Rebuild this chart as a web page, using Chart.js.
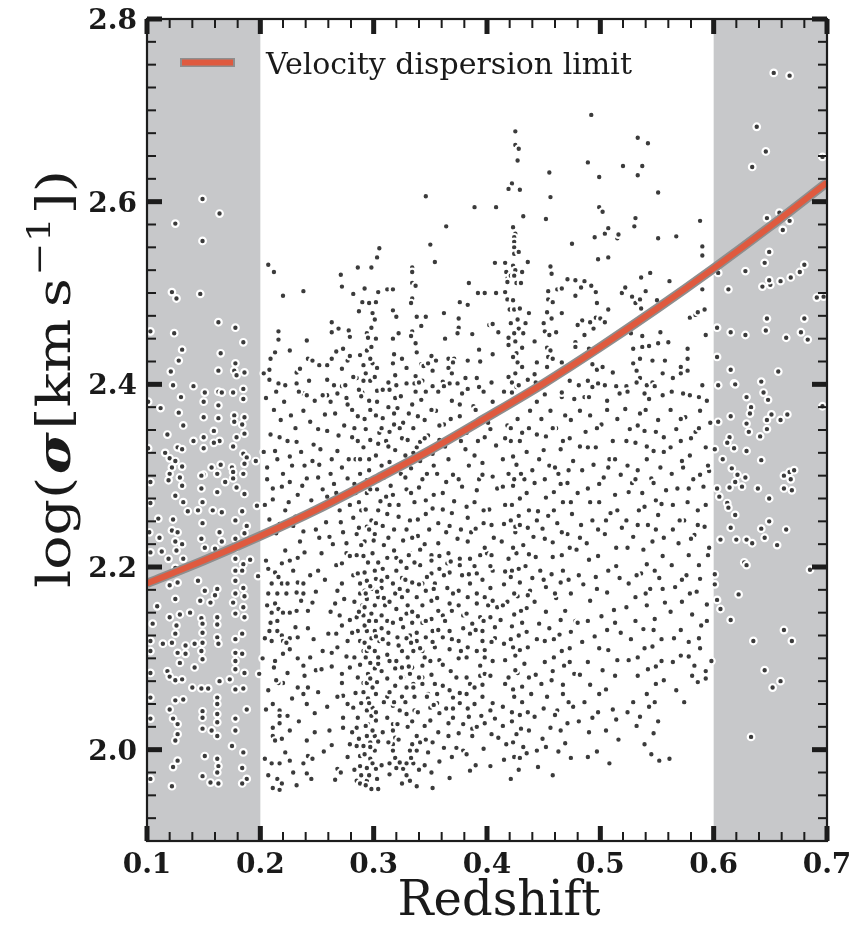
<!DOCTYPE html>
<html>
<head>
<meta charset="utf-8">
<script src="https://cdn.jsdelivr.net/npm/chart.js@4.4.1/dist/chart.umd.min.js"></script>
<style>
  html, body { margin: 0; padding: 0; background: #fff; }
  #wrap { width: 851px; height: 930px; }
</style>
</head>
<body>
<div id="wrap"><canvas id="sigmaChart" width="851" height="930"></canvas></div>
<script>
// axis ticks and shaded redshift ranges
const xMajorTicks = [0.1, 0.2, 0.3, 0.4, 0.5, 0.6, 0.7];
const yMajorTicks = [2.0, 2.2, 2.4, 2.6, 2.8];
const xMinorStep = 0.02;
const yMinorStep = 0.025;
const shadedBands = [[0.1, 0.2], [0.6, 0.7]];

// velocity dispersion limit curve (redshift, log sigma)
const limitZ = [0.10, 0.15, 0.20, 0.25, 0.30, 0.35, 0.40, 0.45, 0.50, 0.55, 0.60, 0.65, 0.70];
const limitSigma = [2.182, 2.207, 2.234, 2.263, 2.295, 2.328, 2.364, 2.401, 2.441, 2.483, 2.527, 2.573, 2.621];

// galaxies, [redshift, log sigma]
const lowBandPts = [
  [0.149,2.603],[0.164,2.587],[0.125,2.576],[0.149,2.557],[0.122,2.501],[0.126,2.494],[0.147,2.499],[0.163,2.468],[0.178,2.462],[0.124,2.456],
  [0.185,2.446],[0.131,2.438],[0.165,2.434],[0.128,2.426],[0.121,2.414],[0.178,2.423],[0.177,2.415],[0.186,2.413],[0.179,2.410],[0.163,2.415],
  [0.103,2.458],[0.123,2.399],[0.141,2.398],[0.151,2.391],[0.163,2.392],[0.166,2.391],[0.176,2.391],[0.185,2.395],[0.185,2.384],[0.101,2.381],
  [0.130,2.386],[0.150,2.381],[0.163,2.377],[0.112,2.374],[0.128,2.369],[0.150,2.364],[0.163,2.363],[0.177,2.366],[0.186,2.364],[0.132,2.355],
  [0.159,2.349],[0.177,2.359],[0.184,2.356],[0.179,2.342],[0.186,2.346],[0.118,2.345],[0.141,2.338],[0.150,2.342],[0.164,2.338],[0.159,2.336],
  [0.127,2.331],[0.131,2.329],[0.150,2.330],[0.176,2.332],[0.101,2.330],[0.116,2.325],[0.120,2.319],[0.125,2.316],[0.185,2.324],[0.188,2.320],
  [0.196,2.316],[0.186,2.313],[0.131,2.310],[0.165,2.312],[0.157,2.309],[0.175,2.309],[0.176,2.304],[0.122,2.309],[0.120,2.302],[0.150,2.301],
  [0.162,2.302],[0.185,2.302],[0.129,2.298],[0.148,2.300],[0.176,2.297],[0.103,2.293],[0.119,2.295],[0.131,2.289],[0.148,2.286],[0.162,2.282],
  [0.169,2.293],[0.179,2.287],[0.186,2.280],[0.125,2.278],[0.132,2.271],[0.149,2.271],[0.136,2.261],[0.145,2.262],[0.158,2.262],[0.166,2.260],
  [0.184,2.261],[0.197,2.267],[0.103,2.270],[0.110,2.253],[0.123,2.252],[0.149,2.248],[0.178,2.251],[0.188,2.245],[0.164,2.238],[0.122,2.240],
  [0.127,2.238],[0.102,2.238],[0.111,2.232],[0.125,2.228],[0.131,2.225],[0.148,2.231],[0.151,2.221],[0.160,2.220],[0.166,2.228],[0.178,2.231],
  [0.186,2.237],[0.178,2.221],[0.103,2.216],[0.113,2.217],[0.119,2.209],[0.126,2.218],[0.132,2.209],[0.178,2.209],[0.185,2.203],[0.191,2.208],
  [0.198,2.190],[0.125,2.199],[0.178,2.196],[0.184,2.196],[0.120,2.180],[0.127,2.183],[0.145,2.185],[0.151,2.174],[0.162,2.176],[0.178,2.185],
  [0.185,2.177],[0.147,2.163],[0.156,2.161],[0.160,2.169],[0.178,2.171],[0.186,2.168],[0.125,2.165],[0.109,2.157],[0.176,2.161],[0.185,2.156],
  [0.120,2.145],[0.129,2.148],[0.138,2.150],[0.148,2.144],[0.162,2.145],[0.178,2.149],[0.186,2.145],[0.105,2.138],[0.126,2.136],[0.149,2.138],
  [0.162,2.137],[0.149,2.128],[0.125,2.127],[0.184,2.127],[0.162,2.123],[0.178,2.121],[0.103,2.119],[0.114,2.116],[0.122,2.117],[0.134,2.114],
  [0.142,2.116],[0.163,2.116],[0.149,2.117],[0.103,2.108],[0.127,2.106],[0.134,2.105],[0.148,2.108],[0.178,2.106],[0.184,2.105],[0.149,2.099],
  [0.129,2.095],[0.178,2.097],[0.118,2.086],[0.142,2.090],[0.178,2.088],[0.186,2.084],[0.199,2.083],[0.103,2.084],[0.120,2.080],[0.125,2.076],
  [0.131,2.077],[0.164,2.075],[0.173,2.077],[0.140,2.068],[0.148,2.067],[0.154,2.067],[0.178,2.066],[0.185,2.067],[0.125,2.054],[0.132,2.055],
  [0.162,2.057],[0.103,2.057],[0.149,2.042],[0.162,2.050],[0.120,2.044],[0.123,2.034],[0.127,2.028],[0.149,2.035],[0.162,2.039],[0.178,2.034],
  [0.178,2.021],[0.188,2.044],[0.162,2.030],[0.103,2.034],[0.149,2.023],[0.157,2.021],[0.162,2.015],[0.127,2.017],[0.125,2.010],[0.175,2.004],
  [0.185,1.997],[0.151,1.993],[0.127,1.988],[0.123,1.981],[0.162,1.990],[0.163,1.982],[0.162,1.975],[0.184,1.980],[0.188,1.968],[0.184,1.963],
  [0.149,1.971],[0.156,1.964],[0.163,1.963],[0.122,1.960],[0.103,1.968]
];

const midUpperPts = [
  [0.207,2.531],[0.212,2.523],[0.220,2.497],[0.238,2.502],[0.216,2.458],[0.216,2.449],[0.213,2.435],[0.208,2.416],[0.208,2.405],[0.216,2.401],
  [0.222,2.399],[0.232,2.413],[0.235,2.417],[0.242,2.428],[0.246,2.426],[0.238,2.390],[0.263,2.468],[0.263,2.457],[0.269,2.461],[0.278,2.459],
  [0.271,2.520],[0.272,2.507],[0.282,2.499],[0.286,2.528],[0.292,2.505],[0.298,2.528],[0.303,2.539],[0.305,2.549],[0.304,2.501],[0.312,2.504],
  [0.317,2.504],[0.290,2.490],[0.296,2.489],[0.302,2.490],[0.287,2.480],[0.299,2.478],[0.301,2.471],[0.298,2.462],[0.294,2.456],[0.295,2.451],
  [0.302,2.450],[0.288,2.432],[0.294,2.437],[0.298,2.441],[0.291,2.421],[0.299,2.423],[0.285,2.407],[0.291,2.404],[0.297,2.404],[0.301,2.408],
  [0.303,2.393],[0.290,2.391],[0.277,2.426],[0.272,2.417],[0.265,2.399],[0.272,2.398],[0.282,2.408],[0.259,2.421],[0.259,2.405],[0.317,2.481],
  [0.320,2.474],[0.322,2.456],[0.317,2.450],[0.318,2.433],[0.325,2.428],[0.317,2.423],[0.319,2.410],[0.313,2.402],[0.320,2.399],[0.314,2.394],
  [0.334,2.528],[0.334,2.523],[0.334,2.511],[0.337,2.508],[0.334,2.494],[0.333,2.489],[0.338,2.474],[0.346,2.474],[0.342,2.464],[0.334,2.458],
  [0.333,2.453],[0.337,2.445],[0.338,2.435],[0.342,2.422],[0.344,2.420],[0.337,2.409],[0.329,2.401],[0.336,2.401],[0.343,2.404],[0.337,2.392],
  [0.346,2.606],[0.350,2.553],[0.354,2.534],[0.364,2.573],[0.351,2.431],[0.355,2.426],[0.348,2.423],[0.352,2.398],[0.362,2.478],[0.363,2.450],
  [0.361,2.403],[0.366,2.428],[0.371,2.428],[0.366,2.418],[0.367,2.401],[0.374,2.401],[0.370,2.424],[0.375,2.472],[0.375,2.462],[0.374,2.456],
  [0.376,2.490],[0.383,2.487],[0.384,2.511],[0.387,2.455],[0.383,2.426],[0.381,2.407],[0.378,2.390],[0.389,2.594],[0.392,2.500],[0.398,2.500],
  [0.393,2.438],[0.394,2.425],[0.391,2.407],[0.393,2.397],[0.402,2.465],[0.405,2.466],[0.405,2.433],[0.407,2.533],[0.408,2.594],[0.408,2.500],
  [0.410,2.457],[0.416,2.501],[0.417,2.523],[0.418,2.493],[0.420,2.482],[0.424,2.482],[0.429,2.483],[0.423,2.492],[0.418,2.516],[0.421,2.519],
  [0.423,2.530],[0.425,2.525],[0.426,2.511],[0.431,2.523],[0.430,2.511],[0.436,2.534],[0.424,2.519],[0.423,2.572],[0.425,2.565],[0.424,2.561],
  [0.424,2.556],[0.424,2.550],[0.424,2.543],[0.428,2.545],[0.422,2.620],[0.419,2.614],[0.429,2.613],[0.425,2.677],[0.425,2.662],[0.428,2.658],
  [0.427,2.645],[0.432,2.584],[0.416,2.533],[0.418,2.512],[0.421,2.467],[0.427,2.471],[0.428,2.461],[0.424,2.456],[0.419,2.451],[0.432,2.456],
  [0.425,2.447],[0.419,2.443],[0.431,2.440],[0.426,2.434],[0.423,2.430],[0.427,2.424],[0.431,2.419],[0.425,2.412],[0.419,2.408],[0.422,2.402],
  [0.426,2.397],[0.422,2.391],[0.437,2.478],[0.434,2.467],[0.442,2.447],[0.442,2.411],[0.444,2.424],[0.436,2.405],[0.452,2.581],[0.455,2.632],
  [0.456,2.605],[0.456,2.529],[0.457,2.521],[0.454,2.502],[0.454,2.493],[0.458,2.490],[0.453,2.479],[0.457,2.472],[0.450,2.467],[0.451,2.458],
  [0.461,2.457],[0.455,2.454],[0.453,2.440],[0.456,2.437],[0.454,2.430],[0.458,2.428],[0.453,2.419],[0.466,2.424],[0.453,2.401],[0.466,2.386],
  [0.462,2.504],[0.466,2.505],[0.466,2.478],[0.475,2.554],[0.478,2.514],[0.478,2.497],[0.483,2.506],[0.486,2.513],[0.484,2.470],[0.480,2.465],
  [0.478,2.446],[0.478,2.441],[0.486,2.454],[0.490,2.439],[0.491,2.468],[0.494,2.461],[0.496,2.473],[0.500,2.472],[0.504,2.468],[0.497,2.489],
  [0.496,2.501],[0.492,2.508],[0.507,2.482],[0.493,2.422],[0.497,2.416],[0.502,2.419],[0.489,2.404],[0.493,2.397],[0.504,2.399],[0.511,2.413],
  [0.486,2.386],[0.492,2.695],[0.489,2.643],[0.499,2.627],[0.499,2.594],[0.502,2.589],[0.495,2.561],[0.504,2.565],[0.507,2.571],[0.515,2.560],
  [0.516,2.564],[0.498,2.537],[0.507,2.539],[0.519,2.500],[0.522,2.506],[0.528,2.496],[0.531,2.489],[0.535,2.493],[0.536,2.483],[0.540,2.502],
  [0.530,2.573],[0.531,2.582],[0.533,2.670],[0.542,2.664],[0.520,2.639],[0.537,2.639],[0.533,2.629],[0.551,2.610],[0.551,2.560],[0.567,2.562],
  [0.536,2.517],[0.544,2.522],[0.550,2.492],[0.561,2.513],[0.527,2.456],[0.537,2.453],[0.529,2.439],[0.537,2.441],[0.543,2.442],[0.551,2.445],
  [0.560,2.446],[0.553,2.457],[0.546,2.426],[0.557,2.426],[0.555,2.412],[0.564,2.407],[0.529,2.423],[0.535,2.428],[0.532,2.415],[0.535,2.407],
  [0.541,2.399],[0.546,2.402],[0.539,2.390],[0.523,2.398],[0.517,2.390],[0.571,2.419],[0.571,2.412],[0.577,2.439],[0.579,2.473],[0.584,2.476],
  [0.586,2.479],[0.592,2.482],[0.577,2.428],[0.577,2.415],[0.590,2.399],[0.587,2.386],[0.573,2.390],[0.593,2.454],[0.588,2.579],[0.590,2.551],
  [0.590,2.541],[0.590,2.504],[0.471,2.515],[0.263,2.428],[0.273,2.439],[0.279,2.431],[0.268,2.390],[0.259,2.388],[0.276,2.385],[0.232,2.401],
  [0.241,2.388]
];

const midLowerPts = [
  [0.207,2.198],[0.213,2.194],[0.219,2.204],[0.226,2.207],[0.233,2.210],[0.239,2.216],[0.222,2.218],[0.254,2.215],[0.210,2.182],[0.219,2.182],
  [0.224,2.182],[0.233,2.183],[0.238,2.182],[0.244,2.191],[0.251,2.196],[0.207,2.171],[0.215,2.171],[0.223,2.171],[0.232,2.172],[0.238,2.171],
  [0.246,2.161],[0.206,2.158],[0.213,2.160],[0.216,2.154],[0.210,2.150],[0.220,2.150],[0.226,2.150],[0.232,2.152],[0.242,2.152],[0.215,2.141],
  [0.208,2.130],[0.215,2.130],[0.219,2.125],[0.220,2.119],[0.210,2.119],[0.204,2.122],[0.226,2.122],[0.233,2.123],[0.242,2.133],[0.202,2.100],
  [0.213,2.097],[0.220,2.105],[0.226,2.110],[0.233,2.100],[0.238,2.092],[0.244,2.101],[0.249,2.087],[0.254,2.088],[0.212,2.090],[0.224,2.084],
  [0.220,2.073],[0.216,2.073],[0.233,2.068],[0.242,2.068],[0.238,2.061],[0.207,2.065],[0.211,2.050],[0.217,2.043],[0.217,2.037],[0.217,2.029],
  [0.224,2.037],[0.248,2.040],[0.241,2.050],[0.226,2.021],[0.211,2.024],[0.211,2.015],[0.213,2.010],[0.241,2.010],[0.222,1.997],[0.204,1.990],
  [0.210,1.985],[0.217,1.985],[0.226,1.988],[0.238,1.985],[0.242,1.993],[0.246,1.990],[0.229,1.975],[0.241,1.974],[0.215,1.968],[0.219,1.963],
  [0.211,1.958],[0.217,1.956],[0.268,1.979],[0.266,1.967],[0.261,2.021],[0.260,2.127],[0.267,2.127],[0.263,2.106],[0.268,2.112],[0.272,2.083],
  [0.272,2.073],[0.277,2.050],[0.273,2.059],[0.273,2.035],[0.273,2.024],[0.270,2.147],[0.272,2.136],[0.266,2.160],[0.268,2.174],[0.272,2.182],
  [0.267,2.202],[0.276,2.215],[0.272,2.204],[0.277,2.119],[0.279,2.090],[0.282,2.100],[0.282,2.191],[0.285,2.213],[0.286,2.193],[0.288,2.182],
  [0.288,2.171],[0.290,2.158],[0.285,2.145],[0.286,2.130],[0.288,2.119],[0.283,2.101],[0.291,2.108],[0.286,2.079],[0.291,2.073],[0.282,2.046],
  [0.286,2.035],[0.285,2.024],[0.285,2.004],[0.291,2.004],[0.288,1.993],[0.279,2.006],[0.288,1.982],[0.285,1.966],[0.288,1.963],[0.294,1.966],
  [0.298,1.957],[0.304,1.957],[0.294,1.980],[0.297,1.990],[0.299,1.985],[0.301,1.999],[0.302,1.979],[0.297,2.008],[0.294,2.015],[0.301,2.015],
  [0.299,2.021],[0.295,2.028],[0.302,2.032],[0.298,2.037],[0.294,2.043],[0.299,2.046],[0.295,2.056],[0.302,2.061],[0.299,2.068],[0.294,2.073],
  [0.295,2.083],[0.301,2.089],[0.297,2.095],[0.304,2.094],[0.294,2.108],[0.301,2.108],[0.292,2.117],[0.298,2.122],[0.305,2.119],[0.294,2.130],
  [0.301,2.130],[0.307,2.133],[0.295,2.139],[0.302,2.141],[0.291,2.147],[0.298,2.149],[0.307,2.147],[0.292,2.156],[0.301,2.158],[0.310,2.158],
  [0.294,2.165],[0.304,2.167],[0.292,2.174],[0.299,2.176],[0.307,2.177],[0.294,2.185],[0.302,2.187],[0.292,2.194],[0.301,2.196],[0.308,2.198],
  [0.295,2.205],[0.304,2.207],[0.299,2.215],[0.312,2.210],[0.312,2.141],[0.313,2.116],[0.314,2.097],[0.312,2.078],[0.319,2.070],[0.312,2.058],
  [0.317,2.048],[0.312,2.035],[0.317,2.028],[0.321,2.028],[0.319,2.013],[0.317,2.006],[0.317,1.999],[0.314,1.985],[0.320,1.980],[0.326,1.979],
  [0.334,2.006],[0.332,1.999],[0.338,1.999],[0.332,1.966],[0.338,1.960],[0.329,1.985],[0.336,2.043],[0.329,2.039],[0.336,2.058],[0.325,2.058],
  [0.329,2.068],[0.335,2.072],[0.326,2.079],[0.332,2.083],[0.325,2.090],[0.334,2.090],[0.320,2.097],[0.330,2.101],[0.325,2.108],[0.335,2.108],
  [0.343,2.092],[0.343,2.079],[0.350,2.097],[0.352,2.081],[0.343,2.072],[0.348,2.061],[0.354,2.072],[0.361,2.070],[0.373,2.079],[0.382,2.079],
  [0.394,2.081],[0.398,2.083],[0.385,2.072],[0.396,2.058],[0.382,2.061],[0.403,2.043],[0.398,2.029],[0.395,2.037],[0.407,2.034],[0.410,2.013],
  [0.387,2.023],[0.387,2.015],[0.366,2.029],[0.366,2.015],[0.345,2.026],[0.350,2.046],[0.338,2.015],[0.348,1.997],[0.367,1.969],[0.385,1.977],
  [0.373,2.002],[0.379,1.999],[0.352,1.958],[0.335,1.985],[0.325,1.963],[0.351,2.143],[0.343,2.139],[0.352,2.130],[0.346,2.123],[0.354,2.112],
  [0.343,2.108],[0.361,2.123],[0.367,2.110],[0.375,2.119],[0.367,2.130],[0.379,2.133],[0.385,2.127],[0.396,2.130],[0.396,2.119],[0.407,2.122],
  [0.375,2.100],[0.382,2.101],[0.391,2.108],[0.398,2.101],[0.405,2.097],[0.394,2.092],[0.407,2.134],[0.403,2.145],[0.394,2.145],[0.387,2.138],
  [0.379,2.147],[0.369,2.152],[0.361,2.147],[0.357,2.152],[0.343,2.158],[0.351,2.163],[0.338,2.167],[0.346,2.174],[0.330,2.174],[0.325,2.167],
  [0.320,2.154],[0.329,2.149],[0.334,2.139],[0.326,2.134],[0.332,2.125],[0.321,2.123],[0.338,2.128],[0.338,2.119],[0.343,2.182],[0.334,2.183],
  [0.325,2.188],[0.317,2.182],[0.320,2.196],[0.329,2.199],[0.341,2.202],[0.351,2.193],[0.358,2.198],[0.354,2.182],[0.365,2.177],[0.367,2.194],
  [0.367,2.160],[0.375,2.174],[0.378,2.191],[0.383,2.167],[0.385,2.182],[0.391,2.193],[0.396,2.185],[0.403,2.177],[0.405,2.196],[0.398,2.167],
  [0.391,2.160],[0.401,2.158],[0.409,2.156],[0.385,2.209],[0.394,2.213],[0.400,2.215],[0.404,2.213],[0.376,2.209],[0.365,2.204],[0.351,2.213],
  [0.332,2.215],[0.320,2.210],[0.366,2.215],[0.383,2.045],[0.389,2.050],[0.376,2.051],[0.370,2.035],[0.356,2.051],[0.358,2.040],[0.350,2.032],
  [0.379,2.028],[0.367,2.065],[0.370,2.057]
];

const midFillPts = [
  [0.205,2.385],[0.212,2.372],[0.218,2.361],[0.209,2.345],[0.224,2.338],[0.231,2.352],[0.238,2.371],[0.244,2.359],[0.215,2.318],[0.228,2.311],
  [0.236,2.326],[0.247,2.334],[0.252,2.312],[0.206,2.296],[0.219,2.288],[0.233,2.279],[0.241,2.297],[0.255,2.285],[0.262,2.302],[0.268,2.327],
  [0.259,2.349],[0.266,2.368],[0.274,2.355],[0.281,2.342],[0.277,2.378],[0.286,2.365],[0.289,2.387],[0.293,2.351],[0.297,2.372],[0.284,2.318],
  [0.291,2.331],[0.296,2.306],[0.302,2.322],[0.305,2.347],[0.308,2.363],[0.303,2.381],[0.311,2.338],[0.314,2.315],[0.318,2.356],[0.321,2.374],
  [0.325,2.341],[0.328,2.322],[0.331,2.368],[0.335,2.352],[0.338,2.331],[0.342,2.383],[0.345,2.361],[0.348,2.344],[0.352,2.324],[0.355,2.371],
  [0.358,2.339],[0.362,2.356],[0.366,2.318],[0.369,2.382],[0.372,2.344],[0.376,2.365],[0.381,2.329],[0.385,2.352],[0.388,2.376],[0.392,2.338],
  [0.396,2.314],[0.401,2.358],[0.405,2.381],[0.408,2.333],[0.208,2.252],[0.214,2.237],[0.222,2.262],[0.229,2.245],[0.235,2.228],[0.242,2.256],
  [0.249,2.241],[0.256,2.266],[0.261,2.233],[0.267,2.281],[0.271,2.249],[0.276,2.226],[0.279,2.268],[0.283,2.291],[0.287,2.243],[0.289,2.262],
  [0.292,2.228],[0.294,2.281],[0.298,2.251],[0.301,2.236],[0.303,2.298],[0.306,2.272],[0.309,2.224],[0.312,2.258],[0.315,2.289],[0.318,2.241],
  [0.322,2.268],[0.326,2.229],[0.329,2.285],[0.332,2.251],[0.336,2.271],[0.339,2.234],[0.343,2.296],[0.346,2.258],[0.349,2.241],[0.353,2.279],
  [0.357,2.226],[0.361,2.263],[0.364,2.293],[0.367,2.245],[0.371,2.272],[0.374,2.231],[0.378,2.288],[0.383,2.254],[0.386,2.238],[0.389,2.271],
  [0.393,2.296],[0.397,2.248],[0.402,2.263],[0.406,2.232],[0.409,2.286],[0.296,2.318],[0.299,2.296],[0.304,2.262],[0.294,2.244],[0.300,2.229],
  [0.307,2.311],[0.313,2.332],[0.288,2.302],[0.282,2.254],[0.311,2.277],[0.324,2.302],[0.333,2.308],[0.341,2.316],[0.326,2.358],[0.319,2.385],
  [0.286,2.338],[0.272,2.309],[0.263,2.318],[0.251,2.298],[0.245,2.273],[0.239,2.311],[0.226,2.293],[0.211,2.274],[0.203,2.326],[0.217,2.342],
  [0.248,2.382],[0.257,2.367],
  [0.412,2.372],[0.418,2.355],[0.421,2.338],[0.424,2.381],[0.427,2.362],[0.431,2.347],[0.435,2.326],[0.438,2.371],[0.414,2.318],[0.419,2.302],
  [0.423,2.289],[0.426,2.312],[0.429,2.275],[0.433,2.296],[0.437,2.262],[0.416,2.268],[0.421,2.251],[0.425,2.238],[0.428,2.256],[0.432,2.224],
  [0.436,2.243],[0.413,2.228],[0.419,2.209],[0.422,2.196],[0.426,2.215],[0.429,2.183],[0.434,2.201],[0.438,2.174],[0.415,2.181],[0.418,2.162],
  [0.424,2.148],[0.427,2.168],[0.431,2.139],[0.435,2.155],[0.412,2.142],[0.421,2.121],[0.425,2.103],[0.428,2.125],[0.433,2.094],[0.416,2.098],
  [0.419,2.079],[0.423,2.066],[0.427,2.084],[0.431,2.052],[0.414,2.047],[0.422,2.031],[0.426,2.017],[0.429,2.038],[0.417,2.006],[0.424,1.992],
  [0.428,1.978],[0.432,2.003],[0.437,2.021],[0.439,2.061],[0.436,2.112],[0.440,2.188],[0.441,2.233],[0.440,2.306],
  [0.444,2.381],[0.448,2.362],[0.452,2.343],[0.456,2.371],[0.461,2.352],[0.465,2.329],[0.469,2.366],[0.473,2.341],[0.477,2.384],[0.446,2.318],
  [0.451,2.296],[0.455,2.311],[0.459,2.282],[0.463,2.302],[0.467,2.271],[0.471,2.292],[0.476,2.316],[0.445,2.261],[0.449,2.242],[0.454,2.256],
  [0.458,2.227],[0.462,2.248],[0.466,2.213],[0.471,2.236],[0.475,2.258],[0.479,2.219],[0.447,2.196],[0.452,2.178],[0.457,2.192],[0.461,2.166],
  [0.465,2.183],[0.469,2.152],[0.474,2.171],[0.478,2.141],[0.446,2.138],[0.451,2.119],[0.455,2.133],[0.459,2.101],[0.464,2.126],[0.468,2.092],
  [0.473,2.111],[0.477,2.083],[0.448,2.072],[0.453,2.058],[0.457,2.076],[0.462,2.043],[0.467,2.061],[0.471,2.029],[0.476,2.047],[0.449,2.012],
  [0.456,2.024],[0.463,1.998],[0.469,2.007],[0.445,1.981],[0.458,1.972],[0.474,1.991],
  [0.482,2.371],[0.487,2.348],[0.491,2.366],[0.496,2.331],[0.501,2.356],[0.506,2.382],[0.511,2.338],[0.515,2.362],[0.484,2.306],[0.489,2.286],
  [0.494,2.312],[0.499,2.271],[0.503,2.298],[0.508,2.318],[0.513,2.279],[0.518,2.301],[0.483,2.246],[0.488,2.226],[0.493,2.251],[0.498,2.212],
  [0.504,2.236],[0.509,2.259],[0.514,2.221],[0.519,2.243],[0.485,2.181],[0.491,2.163],[0.496,2.189],[0.501,2.146],[0.506,2.172],[0.512,2.153],
  [0.517,2.188],[0.484,2.118],[0.489,2.096],[0.495,2.124],[0.502,2.087],[0.507,2.109],[0.513,2.081],[0.518,2.128],[0.486,2.052],[0.493,2.035],
  [0.499,2.061],[0.505,2.021],[0.511,2.044],[0.516,2.011],[0.489,1.992],[0.497,1.998],[0.508,1.985],
  [0.522,2.373],[0.526,2.351],[0.531,2.336],[0.535,2.368],[0.539,2.349],[0.543,2.384],[0.547,2.327],[0.551,2.361],[0.556,2.342],[0.524,2.311],
  [0.528,2.292],[0.533,2.306],[0.537,2.281],[0.541,2.318],[0.545,2.297],[0.549,2.273],[0.553,2.309],[0.558,2.284],[0.523,2.251],[0.529,2.233],
  [0.534,2.262],[0.538,2.219],[0.542,2.246],[0.546,2.228],[0.551,2.257],[0.555,2.212],[0.525,2.182],[0.531,2.167],[0.536,2.193],[0.541,2.158],
  [0.544,2.176],[0.548,2.143],[0.552,2.188],[0.557,2.161],[0.527,2.121],[0.533,2.101],[0.538,2.132],[0.542,2.088],[0.546,2.113],[0.549,2.072],
  [0.554,2.097],[0.529,2.052],[0.535,2.036],[0.543,2.047],[0.547,2.018],[0.551,2.031],[0.545,1.995],[0.552,1.988],[0.539,2.006],
  [0.562,2.372],[0.567,2.351],[0.571,2.338],[0.575,2.364],[0.579,2.322],[0.584,2.348],[0.588,2.371],[0.593,2.331],[0.597,2.358],[0.563,2.302],
  [0.568,2.286],[0.573,2.309],[0.577,2.271],[0.582,2.296],[0.586,2.262],[0.591,2.288],[0.596,2.305],[0.564,2.241],[0.569,2.226],[0.574,2.251],
  [0.578,2.213],[0.583,2.235],[0.587,2.202],[0.592,2.244],[0.596,2.221],[0.566,2.178],[0.572,2.162],[0.576,2.191],[0.581,2.148],[0.585,2.173],
  [0.589,2.136],[0.594,2.159],[0.565,2.122],[0.571,2.103],[0.578,2.118],[0.583,2.092],[0.588,2.111],[0.593,2.078],[0.598,2.097],[0.567,2.065],
  [0.574,2.052],[0.581,2.081],[0.586,2.074],[0.561,1.990]
];

const midExtraPts = [
  [0.203,2.412],[0.209,2.428],[0.214,2.392],[0.221,2.381],[0.227,2.366],[0.234,2.392],[0.243,2.404],[0.251,2.351],[0.255,2.388],[0.262,2.381],
  [0.269,2.344],[0.275,2.399],[0.278,2.318],[0.206,2.309],[0.213,2.327],[0.220,2.302],[0.226,2.321],[0.232,2.337],[0.237,2.289],[0.246,2.316],
  [0.253,2.329],[0.259,2.277],[0.265,2.291],[0.270,2.262],[0.277,2.297],[0.204,2.268],[0.211,2.286],[0.217,2.247],[0.225,2.271],[0.231,2.255],
  [0.238,2.239],[0.246,2.261],[0.252,2.232],[0.258,2.249],[0.264,2.225],[0.273,2.238],[0.279,2.212],[0.205,2.207],[0.216,2.189],[0.229,2.196],
  [0.236,2.163],[0.249,2.173],[0.257,2.186],[0.262,2.151],[0.274,2.165],[0.279,2.142],[0.209,2.139],[0.223,2.117],[0.231,2.134],[0.247,2.121],
  [0.255,2.108],[0.263,2.091],[0.276,2.102],[0.214,2.076],[0.228,2.056],[0.239,2.081],[0.251,2.063],[0.259,2.047],[0.268,2.058],[0.205,2.044],
  [0.219,2.012],[0.234,2.031],[0.248,2.019],[0.256,1.998],[0.263,2.005],[0.277,1.992],[0.207,1.972],[0.232,1.961],[0.245,1.968],[0.271,1.975],
  [0.252,2.421],[0.226,2.437],[0.241,2.448],[0.267,2.436],[0.279,2.452],
  [0.281,2.372],[0.283,2.352],[0.284,2.281],[0.285,2.236],[0.283,2.162],[0.281,2.128],[0.284,2.062],[0.281,2.019],[0.283,1.978],
  [0.287,2.394],[0.288,2.318],[0.287,2.271],[0.289,2.224],[0.287,2.151],[0.288,2.093],[0.289,2.051],[0.287,2.012],[0.289,1.972],
  [0.293,2.412],[0.292,2.362],[0.294,2.295],[0.293,2.263],[0.291,2.212],[0.293,2.171],[0.292,2.136],[0.293,2.101],[0.291,2.063],[0.293,2.026],
  [0.292,1.995],[0.293,1.961],[0.297,2.428],[0.296,2.382],[0.297,2.339],[0.297,2.285],[0.296,2.241],[0.297,2.179],[0.296,2.141],[0.296,2.112],
  [0.297,2.078],[0.296,2.051],[0.297,2.003],[0.296,1.972],[0.303,2.418],[0.302,2.366],[0.304,2.335],[0.303,2.285],[0.302,2.248],[0.304,2.205],
  [0.303,2.173],[0.302,2.124],[0.304,2.101],[0.303,2.074],[0.302,2.041],[0.304,2.009],[0.303,1.968],[0.308,2.394],[0.307,2.352],[0.309,2.298],
  [0.308,2.245],[0.307,2.185],[0.309,2.166],[0.308,2.121],[0.307,2.086],[0.309,2.052],[0.308,2.019],[0.307,1.983],[0.313,2.375],[0.314,2.348],
  [0.312,2.301],[0.314,2.268],[0.313,2.232],[0.312,2.189],[0.314,2.162],[0.313,2.128],[0.312,2.104],[0.314,2.063],[0.313,2.008],[0.314,1.973],
  [0.318,2.368],[0.319,2.328],[0.317,2.279],[0.318,2.218],[0.319,2.171],[0.317,2.139],[0.319,2.089],[0.318,2.052],[0.317,2.021],[0.319,1.991],
  [0.324,2.387],[0.323,2.352],[0.324,2.312],[0.322,2.255],[0.324,2.206],[0.323,2.176],[0.324,2.143],[0.322,2.114],[0.324,2.079],[0.323,2.043],
  [0.322,2.011],[0.323,1.986],[0.329,2.418],[0.330,2.339],[0.328,2.298],[0.329,2.241],[0.331,2.213],[0.328,2.186],[0.330,2.158],[0.329,2.122],
  [0.331,2.091],[0.328,2.052],[0.330,2.025],[0.329,1.972],[0.334,2.378],[0.335,2.325],[0.333,2.281],[0.334,2.232],[0.336,2.205],[0.334,2.151],
  [0.333,2.117],[0.335,2.068],[0.334,2.031],[0.333,1.991],[0.340,2.402],[0.339,2.365],[0.341,2.337],[0.340,2.287],[0.339,2.252],[0.341,2.219],
  [0.340,2.181],[0.339,2.146],[0.341,2.111],[0.340,2.079],[0.339,2.041],[0.341,2.008],[0.340,1.978],[0.346,2.392],[0.345,2.341],[0.347,2.302],
  [0.346,2.273],[0.345,2.225],[0.347,2.189],[0.346,2.141],[0.345,2.101],[0.347,2.058],[0.346,2.011],[0.345,1.983],[0.352,2.415],[0.351,2.372],
  [0.353,2.311],[0.352,2.264],[0.351,2.207],[0.353,2.176],[0.352,2.118],[0.351,2.082],[0.353,2.049],[0.352,2.008],[0.351,1.975],[0.357,2.392],
  [0.358,2.355],[0.356,2.302],[0.357,2.248],[0.358,2.212],[0.356,2.166],[0.357,2.131],[0.358,2.098],[0.356,2.061],[0.357,2.019],[0.358,1.987],
  [0.362,2.398],[0.363,2.332],[0.361,2.281],[0.364,2.238],[0.362,2.191],[0.363,2.141],[0.361,2.093],[0.364,2.045],[0.362,2.002],
  [0.369,2.412],[0.368,2.362],[0.370,2.301],[0.369,2.259],[0.368,2.206],[0.370,2.171],[0.369,2.121],[0.368,2.086],[0.370,2.045],[0.369,1.992],
  [0.376,2.378],[0.377,2.338],[0.375,2.296],[0.377,2.241],[0.376,2.202],[0.375,2.158],[0.377,2.108],[0.376,2.062],[0.375,2.018],
  [0.383,2.395],[0.382,2.347],[0.384,2.311],[0.382,2.266],[0.383,2.228],[0.384,2.192],[0.382,2.149],[0.383,2.112],[0.384,2.036],[0.382,1.995],
  [0.390,2.372],[0.389,2.322],[0.391,2.284],[0.390,2.242],[0.389,2.201],[0.391,2.171],[0.390,2.131],[0.389,2.068],[0.391,2.025],[0.390,1.983],
  [0.397,2.392],[0.398,2.342],[0.396,2.301],[0.397,2.262],[0.398,2.221],[0.396,2.186],[0.397,2.141],[0.398,2.109],[0.396,2.071],[0.397,2.001],
  [0.404,2.402],[0.403,2.351],[0.405,2.299],[0.404,2.246],[0.403,2.201],[0.405,2.163],[0.404,2.118],[0.403,2.081],[0.405,2.051],[0.404,2.017],
  [0.403,1.982],
  [0.421,2.352],[0.423,2.321],[0.424,2.296],[0.422,2.268],[0.425,2.244],[0.423,2.221],[0.421,2.189],[0.424,2.171],[0.422,2.135],[0.423,2.112],
  [0.425,2.087],[0.424,2.058],[0.422,2.041],[0.423,2.008],[0.421,1.968],[0.428,2.399],[0.429,2.338],[0.430,2.302],[0.429,2.246],[0.428,2.198],
  [0.430,2.152],[0.429,2.109],[0.431,2.069],[0.430,2.023],[0.429,1.991],[0.415,2.392],[0.416,2.341],[0.414,2.288],[0.415,2.247],[0.416,2.195],
  [0.414,2.158],[0.415,2.116],[0.416,2.072],[0.414,2.026],[0.415,1.989],[0.436,2.391],[0.437,2.352],[0.435,2.281],[0.437,2.214],[0.436,2.169],
  [0.435,2.129],[0.437,2.079],[0.436,2.041],[0.435,1.996],
  [0.443,2.402],[0.444,2.345],[0.442,2.292],[0.444,2.251],[0.443,2.211],[0.442,2.162],[0.444,2.121],[0.443,2.082],[0.442,2.036],[0.444,1.999],
  [0.451,2.389],[0.450,2.328],[0.452,2.276],[0.451,2.231],[0.450,2.186],[0.452,2.151],[0.451,2.096],[0.450,2.045],[0.452,2.003],[0.459,2.408],
  [0.458,2.352],[0.460,2.309],[0.459,2.262],[0.458,2.211],[0.460,2.171],[0.459,2.121],[0.458,2.086],[0.460,2.038],[0.466,2.391],[0.467,2.338],
  [0.465,2.291],[0.466,2.238],[0.467,2.196],[0.465,2.142],[0.466,2.108],[0.467,2.071],[0.465,2.021],[0.473,2.404],[0.474,2.361],[0.472,2.306],
  [0.474,2.271],[0.473,2.221],[0.472,2.186],[0.474,2.129],[0.473,2.096],[0.472,2.052],
  [0.481,2.399],[0.482,2.332],[0.480,2.281],[0.482,2.232],[0.481,2.191],[0.480,2.139],[0.482,2.082],[0.481,2.031],[0.490,2.386],[0.489,2.331],
  [0.491,2.271],[0.490,2.208],[0.489,2.141],[0.491,2.071],[0.490,2.019],[0.498,2.401],[0.497,2.352],[0.499,2.291],[0.498,2.241],[0.497,2.176],
  [0.499,2.111],[0.498,2.041],[0.506,2.372],[0.507,2.309],[0.505,2.251],[0.507,2.196],[0.506,2.131],[0.505,2.066],[0.514,2.398],[0.513,2.318],
  [0.515,2.262],[0.514,2.201],[0.513,2.139],[0.515,2.098],[0.514,2.033],
  [0.524,2.392],[0.523,2.338],[0.525,2.282],[0.524,2.221],[0.523,2.156],[0.525,2.098],[0.524,2.041],[0.532,2.402],[0.533,2.355],[0.531,2.296],
  [0.533,2.246],[0.532,2.191],[0.531,2.141],[0.533,2.081],[0.532,2.026],[0.540,2.372],[0.541,2.332],[0.539,2.266],[0.541,2.203],[0.540,2.171],
  [0.539,2.111],[0.541,2.061],[0.548,2.398],[0.549,2.348],[0.547,2.292],[0.549,2.241],[0.548,2.196],[0.547,2.131],[0.549,2.091],[0.548,2.052],
  [0.555,2.388],[0.556,2.326],[0.554,2.269],[0.556,2.232],[0.555,2.176],[0.554,2.121],[0.556,2.076],
  [0.563,2.392],[0.562,2.331],[0.564,2.268],[0.563,2.202],[0.562,2.151],[0.564,2.096],[0.571,2.362],[0.572,2.316],[0.570,2.251],[0.572,2.186],
  [0.571,2.131],[0.579,2.388],[0.580,2.341],[0.578,2.286],[0.580,2.231],[0.579,2.171],[0.578,2.102],[0.587,2.352],[0.588,2.301],[0.586,2.246],
  [0.588,2.187],[0.587,2.122],[0.594,2.382],[0.595,2.311],[0.593,2.268],[0.595,2.213],[0.594,2.141],[0.593,2.086]
];

const highBandPts = [
  [0.653,2.741],[0.667,2.738],[0.638,2.682],[0.646,2.655],[0.634,2.638],[0.696,2.649],[0.647,2.582],[0.658,2.588],[0.667,2.579],[0.661,2.569],
  [0.649,2.545],[0.645,2.533],[0.680,2.531],[0.676,2.523],[0.668,2.517],[0.628,2.524],[0.604,2.522],[0.613,2.504],[0.643,2.507],[0.650,2.509],
  [0.659,2.513],[0.649,2.514],[0.691,2.495],[0.697,2.496],[0.647,2.472],[0.680,2.472],[0.603,2.462],[0.615,2.457],[0.628,2.454],[0.646,2.459],
  [0.664,2.451],[0.677,2.457],[0.683,2.449],[0.603,2.430],[0.615,2.416],[0.657,2.414],[0.642,2.403],[0.604,2.399],[0.618,2.401],[0.619,2.400],
  [0.644,2.391],[0.648,2.383],[0.629,2.386],[0.633,2.375],[0.632,2.368],[0.651,2.367],[0.665,2.367],[0.659,2.361],[0.647,2.361],[0.615,2.365],
  [0.604,2.359],[0.629,2.357],[0.631,2.348],[0.647,2.351],[0.641,2.343],[0.696,2.376],[0.614,2.342],[0.612,2.336],[0.618,2.330],[0.601,2.329],
  [0.629,2.327],[0.642,2.317],[0.608,2.318],[0.616,2.308],[0.621,2.301],[0.628,2.298],[0.619,2.293],[0.625,2.288],[0.614,2.287],[0.603,2.286],
  [0.639,2.286],[0.662,2.300],[0.667,2.304],[0.671,2.306],[0.668,2.296],[0.662,2.286],[0.669,2.284],[0.605,2.277],[0.649,2.275],[0.612,2.270],
  [0.613,2.265],[0.619,2.257],[0.615,2.243],[0.642,2.242],[0.649,2.250],[0.664,2.241],[0.606,2.230],[0.620,2.230],[0.629,2.230],[0.634,2.226],
  [0.645,2.232],[0.656,2.224],[0.627,2.205],[0.629,2.202],[0.685,2.197],[0.601,2.192],[0.601,2.181],[0.622,2.170],[0.603,2.164],[0.606,2.154],
  [0.615,2.142],[0.662,2.131],[0.635,2.119],[0.669,2.119],[0.645,2.087],[0.659,2.075],[0.652,2.068],[0.633,2.014]
];

const allPts = [...lowBandPts, ...midUpperPts, ...midLowerPts, ...midFillPts, ...midExtraPts, ...highBandPts];

const bandsPlugin = {
  id: 'bands',
  beforeDatasetsDraw(chart) {
    const { ctx, chartArea: a, scales: { x } } = chart;
    ctx.save();
    ctx.fillStyle = '#c7c8ca';
    shadedBands.forEach(([lo, hi]) => {
      const x0 = x.getPixelForValue(lo), x1 = x.getPixelForValue(hi);
      ctx.fillRect(x0, a.top, x1 - x0, a.bottom - a.top);
    });
    ctx.restore();
  }
};

const framePlugin = {
  id: 'frame',
  afterDatasetsDraw(chart) {
    const { ctx, chartArea: a, scales: { x, y } } = chart;
    ctx.save();
    ctx.fillStyle = '#1c1c1c';
    const xTick = (v, w, len) => {
      const p = x.getPixelForValue(v);
      ctx.fillRect(p - w / 2, a.bottom - len, w, len);
      ctx.fillRect(p - w / 2, a.top, w, len);
    };
    const yTick = (v, w, len) => {
      const p = y.getPixelForValue(v);
      ctx.fillRect(a.left, p - w / 2, len, w);
      ctx.fillRect(a.right - len, p - w / 2, len, w);
    };
    for (let k = 0; k <= 30; k++) xTick(xMajorTicks[0] + k * xMinorStep, 2, 9);
    for (let k = 0; k <= 36; k++) yTick(y.min + k * yMinorStep, 2, 9);
    xMajorTicks.forEach(v => xTick(v, 5, 15));
    yMajorTicks.forEach(v => yTick(v, 5, 15));
    ctx.strokeStyle = '#1c1c1c';
    ctx.lineWidth = 2.2;
    ctx.strokeRect(a.left, a.top, a.right - a.left, a.bottom - a.top);
    ctx.restore();
  }
};

const textPlugin = {
  id: 'texts',
  afterDraw(chart) {
    const { ctx, chartArea: a, scales: { x, y } } = chart;
    ctx.save();
    ctx.fillStyle = '#1a1a1a';
    ctx.font = 'bold 28px "DejaVu Serif"';
    ctx.textAlign = 'center';
    ctx.textBaseline = 'alphabetic';
    xMajorTicks.forEach(v => ctx.fillText(v.toFixed(1), x.getPixelForValue(v), a.bottom + 32));
    ctx.textAlign = 'right';
    yMajorTicks.forEach(v => ctx.fillText(v.toFixed(1), a.left - 10, y.getPixelForValue(v) + 10));

    ctx.font = '48px "DejaVu Serif"';
    ctx.textAlign = 'center';
    ctx.fillText('Redshift', (a.left + a.right) / 2 + 12, 915);

    // y title with bold sigma and superscript, stretched along its length
    ctx.translate(70, 588);
    ctx.rotate(-Math.PI / 2);
    ctx.scale(1.24, 1);
    ctx.textAlign = 'left';
    const parts = [
      ['log(', '46px "DejaVu Serif"', 0],
      ['\u03c3', 'bold italic 46px "DejaVu Serif"', 0],
      ['[km\u2009s', '46px "DejaVu Serif"', 0],
      ['\u22121', '32px "DejaVu Serif"', -20],
      ['])', '46px "DejaVu Serif"', 0]
    ];
    let cx = 0;
    parts.forEach(([t, f, dy]) => {
      ctx.font = f;
      ctx.fillText(t, cx, dy);
      cx += ctx.measureText(t).width + 2;
    });
    ctx.restore();

    // legend
    const ds = chart.data.datasets[2];
    ctx.save();
    ctx.lineCap = 'butt';
    ctx.strokeStyle = '#8e8e8e';
    ctx.lineWidth = 9;
    ctx.beginPath(); ctx.moveTo(180, 62.5); ctx.lineTo(235, 62.5); ctx.stroke();
    ctx.strokeStyle = ds.borderColor;
    ctx.lineWidth = 6;
    ctx.beginPath(); ctx.moveTo(182, 62.5); ctx.lineTo(233, 62.5); ctx.stroke();
    ctx.fillStyle = '#1a1a1a';
    ctx.font = '30px "DejaVu Serif"';
    ctx.textAlign = 'left';
    ctx.fillText(ds.label, 266, 74);
    ctx.restore();
  }
};

const curveData = limitZ.map((z, i) => ({ x: z, y: limitSigma[i] }));

new Chart(document.getElementById('sigmaChart').getContext('2d'), {
  type: 'scatter',
  data: {
    datasets: [
      {
        label: 'Galaxies',
        data: allPts.map(([z, s]) => ({ x: z, y: s })),
        pointRadius: 3.3,
        pointBackgroundColor: '#3b3b3b',
        pointBorderColor: '#ffffff',
        pointBorderWidth: 2.2,
        order: 3
      },
      {
        label: 'limit outline',
        data: curveData,
        showLine: true,
        borderColor: '#8e8e8e',
        borderWidth: 9.5,
        pointRadius: 0,
        cubicInterpolationMode: 'monotone',
        order: 2
      },
      {
        label: 'Velocity dispersion limit',
        data: curveData,
        showLine: true,
        borderColor: '#df5a3f',
        borderWidth: 6,
        pointRadius: 0,
        cubicInterpolationMode: 'monotone',
        order: 1
      }
    ]
  },
  options: {
    responsive: false,
    animation: false,
    events: [],
    layout: { padding: { left: 147, right: 24, top: 19, bottom: 89 } },
    scales: {
      x: { type: 'linear', display: false, min: 0.1, max: 0.7 },
      y: { type: 'linear', display: false, min: 1.9, max: 2.8 }
    },
    plugins: { legend: { display: false }, tooltip: { enabled: false } }
  },
  plugins: [bandsPlugin, framePlugin, textPlugin]
});
</script>
</body>
</html>
